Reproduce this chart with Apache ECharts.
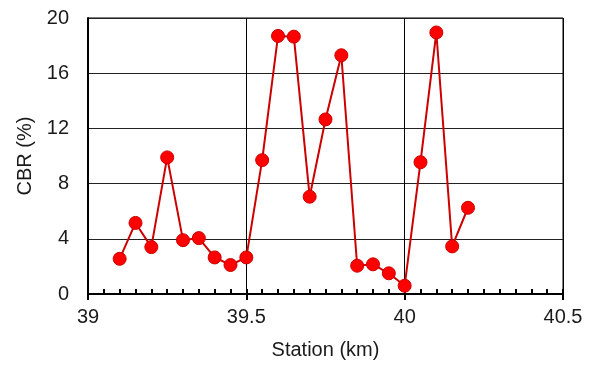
<!DOCTYPE html>
<html>
<head>
<meta charset="utf-8">
<script src="https://cdn.jsdelivr.net/npm/echarts@6/dist/echarts.min.js"></script>
<style>html,body{margin:0;padding:0;background:#fff;}#c{width:592px;height:365px;}</style>
</head>
<body>
<div id="c"></div>
<script>
var stations = [39.10, 39.15, 39.20, 39.25, 39.30, 39.35, 39.40, 39.45, 39.50, 39.55, 39.60, 39.65, 39.70, 39.75, 39.80, 39.85, 39.90, 39.95, 40.00, 40.05, 40.10, 40.15, 40.20];
var cbr = [2.55, 5.15, 3.4, 9.9, 3.9, 4.05, 2.65, 2.1, 2.65, 9.7, 18.7, 18.65, 7.05, 12.65, 17.3, 2.05, 2.15, 1.5, 0.6, 9.55, 18.95, 3.45, 6.25];
var xTitle = 'Station (km)';
var yTitle = 'CBR (%)';

var data = stations.map(function (s, i) { return [s, cbr[i]]; });
var font = 'Liberation Sans, Arial, sans-serif';
var chart = echarts.init(document.getElementById('c'));
chart.setOption({
  animation: false,
  backgroundColor: '#fff',
  grid: { left: 88, right: 29, top: 18, bottom: 69, show: true, borderColor: '#000', borderWidth: 1 },
  xAxis: [{
    type: 'value', min: 39, max: 40.5, interval: 0.5,
    name: xTitle, nameLocation: 'middle', nameGap: 46,
    nameTextStyle: { fontFamily: font, fontSize: 20, color: '#1a1a1a' },
    axisLine: { show: true, onZero: false, lineStyle: { color: '#000', width: 2 } },
    axisTick: { show: true, inside: false, length: 6, lineStyle: { color: '#000', width: 2 } },
    axisLabel: { fontFamily: font, fontSize: 20, color: '#1a1a1a', margin: 13,
      formatter: function (v) { return String(+v.toFixed(1)); } },
    splitLine: { show: true, lineStyle: { color: '#000', width: 1 } }
  }, {
    type: 'value', min: 39, max: 40.5, interval: 0.5, position: 'bottom',
    axisLine: { show: false, onZero: false },
    axisTick: { show: true, inside: true, length: 5, lineStyle: { color: '#000', width: 2 } },
    minorTick: { show: true, splitNumber: 10, length: 5, lineStyle: { color: '#000', width: 2 } },
    axisLabel: { show: false },
    splitLine: { show: false }
  }],
  yAxis: {
    type: 'value', min: 0, max: 20, interval: 4,
    name: yTitle, nameLocation: 'middle', nameGap: 52,
    nameTextStyle: { fontFamily: font, fontSize: 20, color: '#1a1a1a' },
    axisLine: { show: true, lineStyle: { color: '#000', width: 2 } },
    axisTick: { show: false },
    axisLabel: { fontFamily: font, fontSize: 20, color: '#1a1a1a', margin: 19 },
    splitLine: { show: true, lineStyle: { color: '#222', width: 1 } }
  },
  series: [{
    type: 'line', xAxisIndex: 0, data: data,
    symbol: 'circle', symbolSize: 13,
    lineStyle: { color: '#CC0000', width: 2 },
    itemStyle: { color: '#FF0000', borderColor: '#CC0000', borderWidth: 1 }
  }]
});
</script>
</body>
</html>
